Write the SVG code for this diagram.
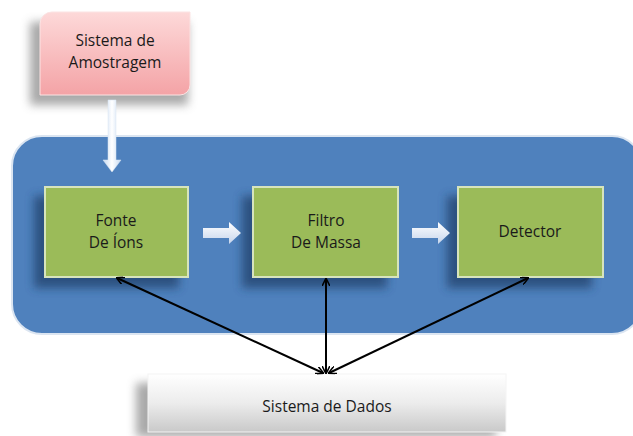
<svg xmlns="http://www.w3.org/2000/svg" width="633" height="436" viewBox="0 0 633 436">
<defs>
<style>
text{font-family:"Open Sans","Liberation Sans",sans-serif;font-size:15.5px;fill:#1a1a1a;text-anchor:middle}
.green{fill:#9bbb59;stroke:#d7e4bd;stroke-width:2}
.conn{stroke:#000;stroke-width:2;fill:none;marker-start:url(#ah);marker-end:url(#ah)}
.blk{fill:url(#blkg)}
.gsh{fill:#1f3d66;opacity:0.7}
</style>
<linearGradient id="pink" x1="0" y1="0" x2="0" y2="1"><stop offset="0" stop-color="#fdd9d9"/><stop offset="1" stop-color="#f4a3a6"/></linearGradient>
<linearGradient id="gray" x1="0" y1="0" x2="0" y2="1"><stop offset="0" stop-color="#ffffff"/><stop offset="0.5" stop-color="#ececec"/><stop offset="1" stop-color="#c9c9c9"/></linearGradient>
<linearGradient id="blkg" x1="0" y1="0" x2="0" y2="1"><stop offset="0" stop-color="#ffffff"/><stop offset="1" stop-color="#c6d5ec"/></linearGradient>
<linearGradient id="varrow" x1="0" y1="0" x2="1" y2="0"><stop offset="0" stop-color="#c6d9f1"/><stop offset="0.5" stop-color="#ffffff"/><stop offset="1" stop-color="#c6d9f1"/></linearGradient>
<filter id="sh" x="-20%" y="-20%" width="140%" height="150%"><feGaussianBlur stdDeviation="5"/></filter>
<marker id="ah" viewBox="0 0 10 10" refX="9" refY="5" markerWidth="8" markerHeight="8" orient="auto-start-reverse" markerUnits="userSpaceOnUse"><path d="M0,0 L10,5 L0,10" fill="none" stroke="#000" stroke-width="2"/></marker>
</defs>
<g id="container">
<rect x="12" y="136" width="630" height="198" rx="30" fill="#4f81bd" stroke="#dbe5f1" stroke-width="2"/>
</g>
<g id="sistema-amostragem">
<path d="M30,22 h158 v83 h-158 z" fill="#555" opacity="0.5" filter="url(#sh)"/>
<path d="M52,12 H190 V85 A10,10 0 0 1 180,95 H40 V24 A12,12 0 0 1 52,12 Z" fill="url(#pink)" stroke="#fbe3e3" stroke-width="1"/>
<text x="115" y="46">Sistema de</text>
<text x="115" y="68">Amostragem</text>
</g>
<g id="fonte">
<rect x="34" y="196" width="145" height="92" class="gsh" filter="url(#sh)"/>
<rect x="45" y="187" width="143" height="90" class="green"/>
<text x="116" y="226">Fonte</text>
<text x="116" y="248">De Íons</text>
</g>
<g id="filtro">
<rect x="242" y="196" width="145" height="92" class="gsh" filter="url(#sh)"/>
<rect x="253" y="187" width="145" height="90" class="green"/>
<text x="326" y="226">Filtro</text>
<text x="326" y="248">De Massa</text>
</g>
<g id="detector">
<rect x="447" y="196" width="145" height="92" class="gsh" filter="url(#sh)"/>
<rect x="458" y="187" width="145" height="90" class="green"/>
<text x="530" y="237">Detector</text>
</g>
<g id="sistema-dados">
<rect x="136" y="383" width="360" height="54" fill="#555" opacity="0.5" filter="url(#sh)"/>
<rect x="148" y="374" width="358" height="58" fill="url(#gray)" stroke="#f4f4f4" stroke-width="1"/>
<text x="327" y="412">Sistema de Dados</text>
</g>
<g id="connectors">
<path d="M108,100 h8 v60 h5 l-9,12 l-9,-12 h5 z" fill="url(#varrow)" stroke="#dbe5f1" stroke-width="0.5"/>
<path class="blk" d="M203,228 h26 v-6 l12,11 l-12,11 v-6 h-26 z"/>
<path class="blk" d="M412,228 h26 v-6 l12,11 l-12,11 v-6 h-26 z"/>
<line class="conn" x1="323" y1="373" x2="117" y2="278"/>
<line class="conn" x1="326" y1="373" x2="326" y2="279"/>
<line class="conn" x1="329" y1="373" x2="528" y2="278"/>
</g>
</svg>
